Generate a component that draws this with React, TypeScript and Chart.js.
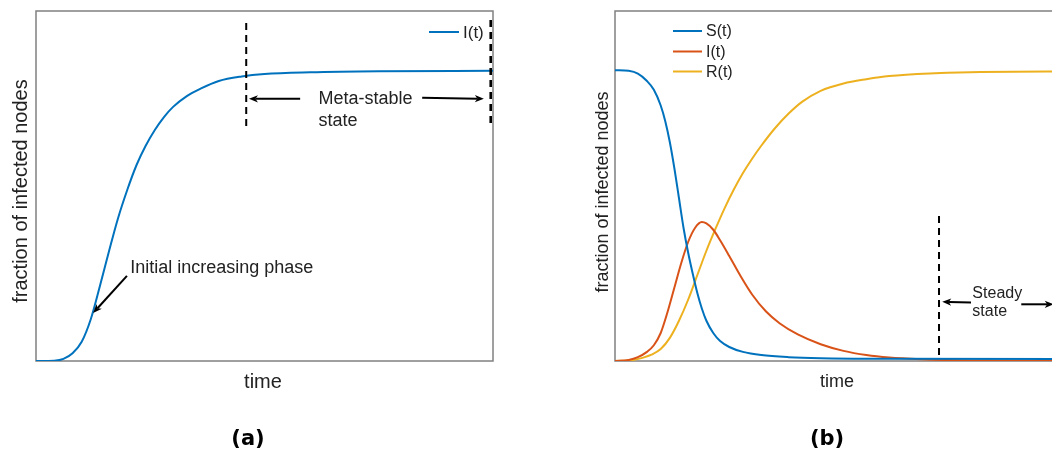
import React, { useEffect, useRef } from "react";
import { Chart, registerables } from "chart.js";

Chart.register(...registerables);

const FONT = "'Liberation Sans', Arial, Helvetica, sans-serif";
const CAPTION_FONT = "'DejaVu Sans', sans-serif";
const INK = "#222222";
const FRAME = "#808080";
const BLUE = "#0072BD";
const ORANGE = "#D95319";
const YELLOW = "#EDB120";

// Panel (a): SIS-style infection curve
const timeA = [0, 4, 6, 8, 10, 12, 14, 16, 18, 20, 22, 24, 26, 28, 30, 33, 36, 40, 45, 50, 60, 75, 100];
const infectedA = [0, 0.001, 0.006, 0.022, 0.055, 0.12, 0.215, 0.315, 0.41, 0.49, 0.56, 0.615, 0.66, 0.697, 0.726, 0.757, 0.778, 0.8, 0.813, 0.82, 0.825, 0.828, 0.829];

// Panel (b): SIR compartments
const susceptibleTime = [0, 3, 5, 7, 8.5, 10, 11, 12, 13, 14, 15, 16, 17, 18, 19, 20, 21.5, 23, 25, 28, 32, 38, 45, 60, 100];
const susceptibleB = [0.831, 0.829, 0.821, 0.8, 0.775, 0.73, 0.685, 0.625, 0.55, 0.465, 0.38, 0.31, 0.25, 0.195, 0.15, 0.115, 0.08, 0.057, 0.04, 0.026, 0.017, 0.011, 0.008, 0.0065, 0.006];
const infectedTime = [0, 3, 5, 7, 8.5, 10, 11.5, 13, 14.5, 16, 17.5, 19, 20, 21.5, 23, 25, 27.5, 30, 33, 36, 40, 45, 50, 55, 60, 67, 75, 85, 100];
const infectedB = [0, 0.003, 0.011, 0.026, 0.045, 0.08, 0.14, 0.21, 0.28, 0.34, 0.38, 0.397, 0.393, 0.375, 0.345, 0.3, 0.242, 0.19, 0.142, 0.108, 0.076, 0.048, 0.029, 0.017, 0.01, 0.005, 0.002, 0.001, 0];
const recoveredTime = [0, 4, 6, 8, 10, 12, 14, 16, 18, 20, 22, 24, 26, 28, 30, 32, 35, 38, 41, 45, 50, 55, 60, 70, 80, 100];
const recoveredB = [0, 0.003, 0.009, 0.018, 0.034, 0.066, 0.115, 0.175, 0.245, 0.315, 0.378, 0.437, 0.49, 0.537, 0.578, 0.615, 0.665, 0.707, 0.741, 0.772, 0.793, 0.805, 0.814, 0.822, 0.826, 0.827];

const labelsA = ["I(t)"];
const labelsB = ["S(t)", "I(t)", "R(t)"];
const xTitle = "time";
const yTitle = "fraction of infected nodes";

type Pt = { t: number; v: number };
type Decor = {
  frame: number;
  yTitle: { x: number; y: number; size: number };
  xTitle: { x: number; y: number; size: number };
  caption: { text: string; x: number; y: number };
  legend: { x0: number; x1: number; textX: number; rows: number[]; size: number };
  dashes: { t: number; v0: number; v1: number; width: number }[];
  arrows: { from: Pt; to: Pt }[];
  notes: { at: Pt; text: string }[];
  noteSize: number;
};

function series(ts: number[], vs: number[]) {
  return ts.map((t, i) => ({ x: t, y: vs[i] }));
}

function drawArrow(ctx: CanvasRenderingContext2D, x0: number, y0: number, x1: number, y1: number) {
  const ang = Math.atan2(y1 - y0, x1 - x0);
  const len = 9;
  const half = 3.6;
  const back = 6.5;
  ctx.beginPath();
  ctx.moveTo(x0, y0);
  ctx.lineTo(x1 - Math.cos(ang) * back, y1 - Math.sin(ang) * back);
  ctx.stroke();
  ctx.save();
  ctx.translate(x1, y1);
  ctx.rotate(ang);
  ctx.beginPath();
  ctx.moveTo(0, 0);
  ctx.lineTo(-len, -half);
  ctx.lineTo(-back, 0);
  ctx.lineTo(-len, half);
  ctx.closePath();
  ctx.fill();
  ctx.restore();
}

function makeDecor(d: Decor) {
  return {
    id: "panelDecor",
    beforeDatasetsDraw(chart: any) {
      const { ctx, chartArea: a } = chart;
      ctx.save();
      ctx.strokeStyle = FRAME;
      ctx.lineWidth = d.frame;
      ctx.strokeRect(a.left, a.top, a.right - a.left, a.bottom - a.top);
      ctx.restore();
    },
    afterDraw(chart: any) {
      const { ctx } = chart;
      const sx = chart.scales.x;
      const sy = chart.scales.y;
      const px = (t: number) => sx.getPixelForValue(t);
      const py = (v: number) => sy.getPixelForValue(v);
      ctx.save();
      ctx.fillStyle = INK;
      ctx.strokeStyle = "#000";

      // axis titles
      ctx.font = `${d.xTitle.size}px ${FONT}`;
      ctx.textAlign = "center";
      ctx.textBaseline = "alphabetic";
      ctx.fillText(xTitle, d.xTitle.x, d.xTitle.y);
      ctx.save();
      ctx.translate(d.yTitle.x, d.yTitle.y);
      ctx.rotate(-Math.PI / 2);
      ctx.font = `${d.yTitle.size}px ${FONT}`;
      ctx.fillText(yTitle, 0, 0);
      ctx.restore();

      // caption
      ctx.font = `bold 21px ${CAPTION_FONT}`;
      ctx.textBaseline = "middle";
      ctx.fillStyle = "#000";
      ctx.fillText(d.caption.text, d.caption.x, d.caption.y);

      // legend
      ctx.textAlign = "left";
      ctx.textBaseline = "middle";
      ctx.font = `${d.legend.size}px ${FONT}`;
      chart.data.datasets.forEach((ds: any, i: number) => {
        const y = d.legend.rows[i];
        ctx.strokeStyle = ds.borderColor;
        ctx.lineWidth = 2;
        ctx.beginPath();
        ctx.moveTo(d.legend.x0, y);
        ctx.lineTo(d.legend.x1, y);
        ctx.stroke();
        ctx.fillStyle = INK;
        ctx.fillText(ds.label, d.legend.textX, y + 1);
      });

      // dashed markers
      ctx.strokeStyle = "#000";
      ctx.setLineDash([7, 5]);
      d.dashes.forEach((m) => {
        ctx.lineWidth = m.width;
        ctx.beginPath();
        ctx.moveTo(px(m.t), py(m.v0));
        ctx.lineTo(px(m.t), py(m.v1));
        ctx.stroke();
      });
      ctx.setLineDash([]);

      // arrows
      ctx.lineWidth = 2;
      ctx.fillStyle = "#000";
      d.arrows.forEach((r) => drawArrow(ctx, px(r.from.t), py(r.from.v), px(r.to.t), py(r.to.v)));

      // notes
      ctx.fillStyle = INK;
      ctx.font = `${d.noteSize}px ${FONT}`;
      ctx.textAlign = "left";
      ctx.textBaseline = "alphabetic";
      d.notes.forEach((n) => ctx.fillText(n.text, px(n.at.t), py(n.at.v)));
      ctx.restore();
    },
  };
}

const decorA: Decor = {
  frame: 1.5,
  yTitle: { x: 27, y: 191, size: 20 },
  xTitle: { x: 263, y: 388, size: 20 },
  caption: { text: "(a)", x: 248, y: 440 },
  legend: { x0: 429, x1: 459, textX: 463, rows: [32], size: 17 },
  dashes: [
    { t: 46, v0: 0.966, v1: 0.66, width: 2 },
    { t: 99.5, v0: 0.974, v1: 0.666, width: 2.6 },
  ],
  arrows: [
    { from: { t: 57.8, v: 0.749 }, to: { t: 46.6, v: 0.749 } },
    { from: { t: 84.5, v: 0.752 }, to: { t: 98.0, v: 0.749 } },
    { from: { t: 19.9, v: 0.243 }, to: { t: 12.5, v: 0.137 } },
  ],
  notes: [
    { at: { t: 61.8, v: 0.733 }, text: "Meta-stable" },
    { at: { t: 61.8, v: 0.671 }, text: "state" },
    { at: { t: 20.6, v: 0.252 }, text: "Initial increasing phase" },
  ],
  noteSize: 18,
};

const decorB: Decor = {
  frame: 1.5,
  yTitle: { x: 48, y: 192, size: 18 },
  xTitle: { x: 277, y: 387, size: 18 },
  caption: { text: "(b)", x: 267, y: 440 },
  legend: { x0: 113, x1: 142, textX: 146, rows: [31, 51.5, 71.5], size: 16 },
  dashes: [{ t: 70.9, v0: 0.414, v1: 0.017, width: 2 }],
  arrows: [
    { from: { t: 77.9, v: 0.167 }, to: { t: 71.6, v: 0.169 } },
    { from: { t: 88.9, v: 0.162 }, to: { t: 96.0, v: 0.162 } },
  ],
  notes: [
    { at: { t: 78.2, v: 0.181 }, text: "Steady" },
    { at: { t: 78.2, v: 0.129 }, text: "state" },
  ],
  noteSize: 16,
};

function lineSet(label: string, color: string, data: { x: number; y: number }[]) {
  return {
    label,
    data,
    borderColor: color,
    backgroundColor: color,
    borderWidth: 2,
    pointRadius: 0,
    fill: false,
    cubicInterpolationMode: "monotone" as const,
  };
}

function Panel(props: {
  left: number;
  width: number;
  padding: { left: number; right: number; top: number; bottom: number };
  datasets: any[];
  decor: Decor;
}) {
  const ref = useRef<HTMLCanvasElement | null>(null);
  useEffect(() => {
    if (!ref.current) return;
    const chart = new Chart(ref.current, {
      type: "line",
      data: { datasets: props.datasets },
      options: {
        responsive: false,
        animation: false,
        events: [],
        layout: { padding: props.padding },
        plugins: { legend: { display: false }, tooltip: { enabled: false }, title: { display: false } },
        scales: {
          x: { type: "linear", min: 0, max: 100, display: false },
          y: { type: "linear", min: 0, max: 1, display: false },
        },
      },
      plugins: [makeDecor(props.decor)],
    });
    return () => chart.destroy();
  }, []);
  return (
    <canvas
      ref={ref}
      width={props.width}
      height={456}
      style={{ position: "absolute", left: props.left, top: 0, width: props.width, height: 456 }}
    />
  );
}

export default function App() {
  const datasetsA = [lineSet(labelsA[0], BLUE, series(timeA, infectedA))];
  const datasetsB = [
    lineSet(labelsB[0], BLUE, series(susceptibleTime, susceptibleB)),
    lineSet(labelsB[1], ORANGE, series(infectedTime, infectedB)),
    lineSet(labelsB[2], YELLOW, series(recoveredTime, recoveredB)),
  ];
  return (
    <div
      style={{
        position: "fixed",
        left: 0,
        top: 0,
        width: 1052,
        height: 456,
        overflow: "hidden",
        background: "#fff",
      }}
    >
      <Panel left={0} width={540} padding={{ left: 36, right: 47, top: 11, bottom: 95 }} datasets={datasetsA} decor={decorA} />
      <Panel left={560} width={540} padding={{ left: 55, right: 28, top: 11, bottom: 95 }} datasets={datasetsB} decor={decorB} />
    </div>
  );
}
